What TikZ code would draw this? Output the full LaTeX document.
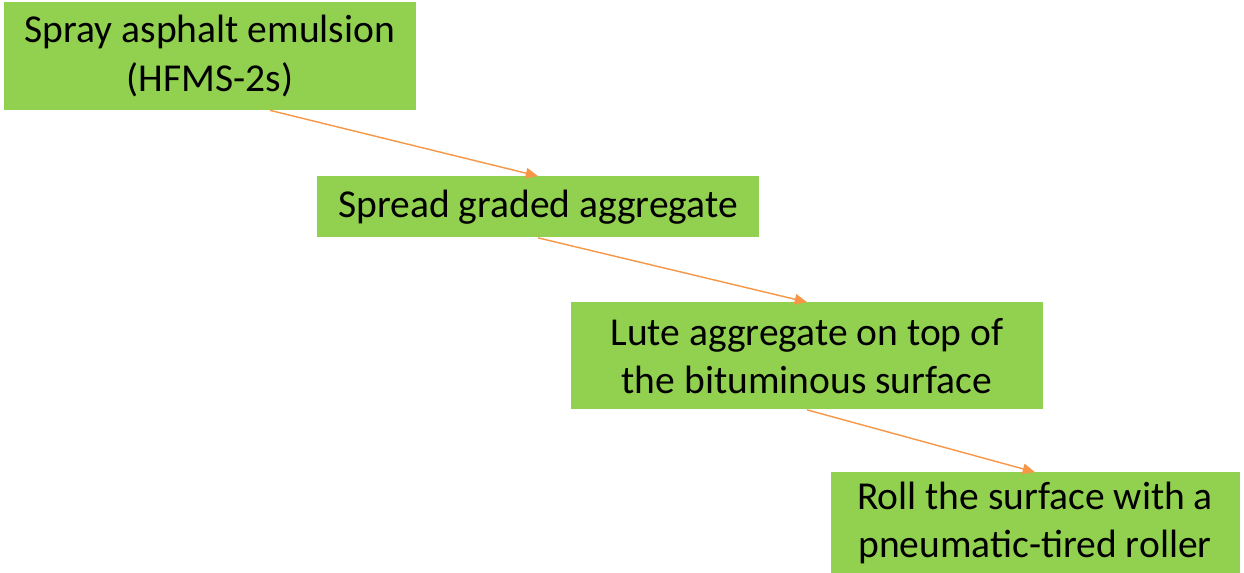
\documentclass[tikz,border=0pt]{standalone}
\usepackage{fontspec}
\setmainfont{Carlito}
\usepackage{tikz}
\usetikzlibrary{arrows.meta,positioning,calc}

\definecolor{stepgreen}{HTML}{92D050}
\definecolor{steporange}{HTML}{F79646}

\begin{document}
\begin{tikzpicture}[%
    x=0.02cm,
    y=-0.02cm,
    stepbox/.style={fill=stepgreen, draw=none, align=center, inner sep=0pt,
        font={\fontsize{22.5}{27.5}\selectfont}},
    flow/.style={draw=steporange, line width=0.8pt, -{Triangle[length=7pt, width=6pt]}}
    ]

    \useasboundingbox (0,0) rectangle (1244,573);

    \node at (210,56) [stepbox, minimum width=412*0.02cm, minimum height=108*0.02cm] (spray) {Spray asphalt emulsion\\(HFMS-2s)};
    \node at (538,207) [stepbox, minimum width=442*0.02cm, minimum height=61*0.02cm] (spread) {Spread graded aggregate};
    \node at (807,356) [stepbox, minimum width=472*0.02cm, minimum height=107*0.02cm] (lute) {Lute aggregate on top of\\the bituminous surface};
    \node at (1035,523) [stepbox, minimum width=409*0.02cm, minimum height=101*0.02cm] (roll) {Roll the surface with a\\pneumatic-tired roller};

    % arrows between the steps
    \draw [flow] ([xshift=1.2cm]spray.south) -- (spread.north);
    \draw [flow] (spread.south) -- (lute.north);
    \draw [flow] (lute.south) -- (roll.north);
\end{tikzpicture}
\end{document}
